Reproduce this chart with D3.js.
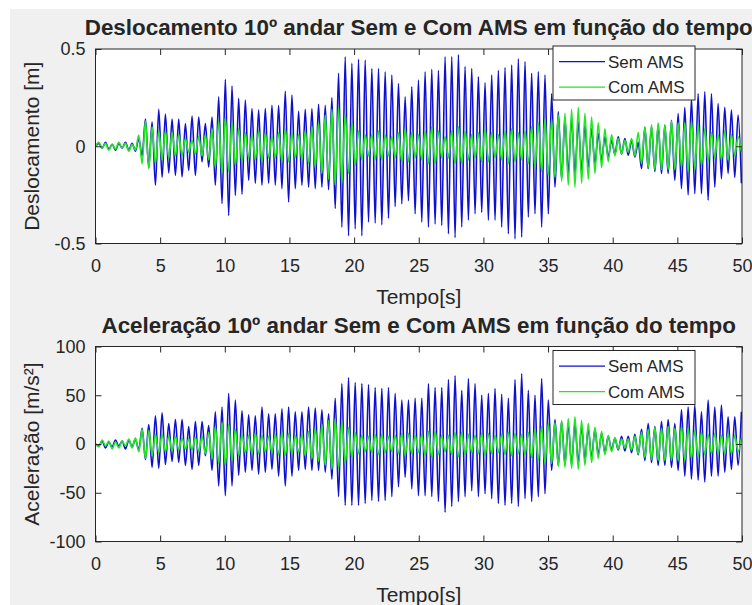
<!DOCTYPE html>
<html>
<head>
<meta charset="utf-8">
<script src="https://cdn.jsdelivr.net/npm/d3@7"></script>
<style>
  html, body { margin: 0; padding: 0; background: #ffffff; }
  svg { display: block; }
  text { font-family: "Liberation Sans", Arial, Helvetica, sans-serif; fill: #262626; }
</style>
</head>
<body>
<svg id="chart" width="752" height="605"></svg>
<script>
// ---------------- DATA ----------------
// Successive extremes (alternating max / min) of each signal, one per half oscillation.
const halfPeriod = 0.2575; // seconds between successive extremes (period ~0.515 s)

const semAMSDeslocamento = [
  0, 0.015, -0.01, 0.02, -0.015, 0.01, -0.02, 0.015, -0.01, 0.02,
  -0.02, 0.015, -0.025, 0.04, -0.05, 0.14, -0.11, 0.125, -0.2, 0.19,
  -0.16, 0.165, -0.137, 0.14, -0.15, 0.14, -0.158, 0.117, -0.124, 0.155,
  -0.15, 0.15, -0.08, 0.117, -0.107, 0.15, -0.2, 0.254, -0.295, 0.344,
  -0.356, 0.31, -0.253, 0.246, -0.247, 0.237, -0.175, 0.194, -0.19, 0.186,
  -0.2, 0.194, -0.19, 0.21, -0.2, 0.21, -0.218, 0.283, -0.287, 0.263,
  -0.218, 0.18, -0.2, 0.19, -0.21, 0.194, -0.218, 0.216, -0.21, 0.21,
  -0.223, 0.25, -0.32, 0.375, -0.416, 0.46, -0.46, 0.426, -0.425, 0.447,
  -0.46, 0.443, -0.39, 0.4, -0.395, 0.4, -0.404, 0.383, -0.37, 0.366,
  -0.31, 0.323, -0.296, 0.254, -0.28, 0.306, -0.347, 0.34, -0.39, 0.383,
  -0.416, 0.395, -0.4, 0.39, -0.407, 0.46, -0.45, 0.46, -0.47, 0.47,
  -0.416, 0.41, -0.38, 0.4, -0.347, 0.357, -0.34, 0.326, -0.38, 0.366,
  -0.38, 0.39, -0.416, 0.405, -0.45, 0.418, -0.476, 0.45, -0.467, 0.435,
  -0.364, 0.375, -0.347, 0.383, -0.416, 0.366, -0.347, 0.27, -0.21, 0.177,
  -0.167, 0.143, -0.14, 0.143, -0.14, 0.125, -0.124, 0.108, -0.107, 0.09,
  -0.09, 0.065, -0.072, 0.048, -0.055, 0.03, -0.04, 0.048, -0.04, 0.04,
  -0.046, 0.03, -0.055, 0.02, -0.115, 0.096, -0.115, 0.1, -0.13, 0.108,
  -0.14, 0.108, -0.14, 0.134, -0.175, 0.168, -0.218, 0.2, -0.25, 0.245,
  -0.244, 0.27, -0.244, 0.28, -0.278, 0.27, -0.21, 0.22, -0.167, 0.2,
  -0.14, 0.186, -0.16, 0.16, -0.19
];

const comAMSDeslocamento = [
  0, 0.02, -0.01, 0.015, -0.02, 0.01, -0.015, 0.02, -0.01, 0.015,
  -0.025, 0.01, -0.02, 0.057, -0.09, 0.13, -0.115, 0.1, -0.09, 0.08,
  -0.07, 0.08, -0.06, 0.07, -0.05, 0.06, -0.05, 0.04, -0.03, 0.03,
  -0.04, 0.05, -0.05, 0.06, -0.07, 0.09, -0.11, 0.13, -0.14, 0.15,
  -0.13, 0.12, -0.1, 0.09, -0.08, 0.07, -0.06, 0.06, -0.07, 0.08,
  -0.08, 0.07, -0.06, 0.05, -0.06, 0.07, -0.08, 0.09, -0.08, 0.07,
  -0.06, 0.06, -0.07, 0.08, -0.09, 0.1, -0.11, 0.12, -0.14, 0.16,
  -0.17, 0.19, -0.2, 0.2, -0.19, 0.17, -0.14, 0.12, -0.1, 0.08,
  -0.07, 0.06, -0.05, 0.06, -0.07, 0.08, -0.07, 0.06, -0.05, 0.05,
  -0.06, 0.07, -0.08, 0.09, -0.08, 0.07, -0.06, 0.06, -0.07, 0.08,
  -0.09, 0.1, -0.09, 0.08, -0.06, 0.05, -0.06, 0.08, -0.09, 0.1,
  -0.09, 0.08, -0.07, 0.06, -0.06, 0.07, -0.08, 0.09, -0.08, 0.07,
  -0.06, 0.06, -0.07, 0.08, -0.09, 0.09, -0.08, 0.07, -0.07, 0.08,
  -0.09, 0.1, -0.11, 0.12, -0.13, 0.14, -0.15, 0.14, -0.16, 0.16,
  -0.18, 0.17, -0.2, 0.19, -0.21, 0.2, -0.19, 0.17, -0.17, 0.15,
  -0.14, 0.12, -0.11, 0.09, -0.08, 0.06, -0.05, 0.04, -0.04, 0.03,
  -0.03, 0.04, -0.05, 0.07, -0.09, 0.1, -0.11, 0.11, -0.12, 0.12,
  -0.12, 0.11, -0.12, 0.13, -0.12, 0.12, -0.11, 0.12, -0.13, 0.13,
  -0.12, 0.11, -0.1, 0.09, -0.08, 0.07, -0.06, 0.06, -0.07, 0.08,
  -0.07, 0.06, -0.05, 0.05, -0.03
];

const semAMSAceleracao = [
  0, -2, 3, -4, 2, -3, 4, -2, 3, -5,
  4, -3, 5, -6, 16, -16, 20, -24, 29, -25,
  32, -21, 21, -18, 25, -19, 25, -22, 18, -26,
  23, -22, 23, -12, 19, -27, 33, -43, 38, -53,
  52, -43, 45, -32, 34, -29, 30, -27, 29, -31,
  38, -29, 31, -26, 31, -33, 36, -43, 38, -33,
  33, -27, 33, -26, 38, -27, 37, -27, 35, -29,
  31, -36, 47, -54, 62, -63, 68, -63, 63, -63,
  62, -61, 61, -58, 58, -59, 57, -58, 58, -54,
  52, -44, 45, -34, 45, -46, 47, -53, 47, -53,
  62, -54, 58, -59, 58, -70, 66, -64, 70, -59,
  55, -54, 67, -48, 62, -54, 50, -51, 52, -56,
  57, -61, 51, -63, 47, -61, 66, -64, 72, -56,
  55, -59, 50, -54, 67, -51, 45, -27, 25, -22,
  23, -21, 20, -21, 21, -19, 18, -16, 16, -14,
  15, -11, 11, -9, 8, -6, 6, -6, 8, -7,
  8, -9, 10, -11, 15, -17, 21, -19, 18, -22,
  23, -22, 25, -24, 21, -27, 35, -33, 38, -36,
  40, -37, 33, -39, 45, -33, 38, -33, 40, -29,
  28, -26, 28, -22, 33
];

const comAMSAceleracao = [
  0, -3, 4, -2, 3, -5, 2, -4, 3, -2,
  5, -4, 6, -8, 15, -15, 14, -12, 10, -9,
  10, -8, 8, -7, 8, -6, 6, -5, 5, -6,
  7, -8, 8, -10, 12, -15, 18, -20, 22, -22,
  20, -17, 15, -12, 10, -9, 9, -10, 11, -10,
  9, -8, 8, -9, 10, -11, 12, -12, 11, -10,
  9, -9, 10, -12, 13, -15, 16, -18, 20, -22,
  24, -26, 26, -25, 23, -20, 17, -14, 12, -10,
  9, -8, 8, -9, 10, -11, 10, -9, 8, -8,
  9, -10, 11, -12, 11, -10, 9, -9, 10, -12,
  13, -14, 13, -11, 9, -8, 9, -11, 12, -13,
  12, -11, 10, -9, 9, -10, 11, -12, 11, -10,
  9, -9, 10, -11, 12, -12, 11, -10, 10, -11,
  12, -14, 15, -17, 18, -20, 21, -20, 22, -23,
  24, -24, 26, -25, 28, -26, 24, -22, 21, -19,
  17, -15, 13, -11, 9, -8, 6, -5, 5, -4,
  5, -6, 8, -10, 12, -14, 15, -16, 17, -17,
  16, -17, 18, -17, 16, -17, 18, -17, 16, -15,
  14, -13, 12, -11, 10, -10, 11, -10, 9, -10,
  11, -10, 9, -8, 6
];

const xTicks = [0, 5, 10, 15, 20, 25, 30, 35, 40, 45, 50];
const yTicksDesl = [-0.5, 0, 0.5];
const yTicksAcel = [-100, -50, 0, 50, 100];
const seriesNames = ["Sem AMS", "Com AMS"];
const seriesColors = ["#0f0fd2", "#22e622"];

// ---------------- DRAWING ----------------
const svg = d3.select("#chart");
svg.append("rect").attr("x", 0).attr("y", 0).attr("width", 752).attr("height", 605).attr("fill", "#ffffff");
svg.append("rect").attr("x", 10).attr("y", 9).attr("width", 742).attr("height", 596).attr("fill", "#f0f0f0");

const axLeft = 95.5, axRight = 742;
const x = d3.scaleLinear().domain([0, 50]).range([axLeft, axRight]);
const hyphenFmt = d => String(d).replace("\u2212", "-");

function panel(cfg) {
  const { top, bottom, yDomain, yTicks, sem, com, title, titleY, ylabel, legendY, id } = cfg;
  const y = d3.scaleLinear().domain(yDomain).range([bottom, top]);
  const g = svg.append("g");

  g.append("rect").attr("x", axLeft).attr("y", top).attr("width", axRight - axLeft).attr("height", bottom - top)
    .attr("fill", "#ffffff");

  g.append("clipPath").attr("id", "clip" + id).append("rect")
    .attr("x", axLeft).attr("y", top).attr("width", axRight - axLeft).attr("height", bottom - top);

  const line = d3.line()
    .x((d, i) => x(i * halfPeriod))
    .y(d => y(d))
    .curve(d3.curveMonotoneX);

  const plot = g.append("g").attr("clip-path", `url(#clip${id})`);
  [sem, com].forEach((s, i) => {
    plot.append("path").datum(s).attr("d", line).attr("fill", "none")
      .attr("stroke", seriesColors[i]).attr("stroke-width", 1.6).attr("stroke-linejoin", "round");
  });

  // axes with inward ticks
  const tickFont = sel => sel.selectAll("text").style("font-size", "18px").attr("fill", "#262626");
  const clean = sel => { sel.select(".domain").remove(); sel.selectAll("line").attr("stroke", "#262626"); };

  g.append("g").attr("transform", `translate(0,${bottom})`)
    .call(d3.axisBottom(x).tickValues(xTicks).tickFormat(hyphenFmt).tickSize(-6).tickPadding(16))
    .call(clean).call(tickFont);
  g.append("g").attr("transform", `translate(0,${top})`)
    .call(d3.axisTop(x).tickValues(xTicks).tickSize(-6).tickFormat(""))
    .call(clean);
  g.append("g").attr("transform", `translate(${axLeft},0)`)
    .call(d3.axisLeft(y).tickValues(yTicks).tickFormat(hyphenFmt).tickSize(-6).tickPadding(10))
    .call(clean).call(tickFont);
  g.append("g").attr("transform", `translate(${axRight},0)`)
    .call(d3.axisRight(y).tickValues(yTicks).tickSize(-6).tickFormat(""))
    .call(clean);
  svg.selectAll("g").attr("font-family", null);

  g.append("rect").attr("x", axLeft).attr("y", top).attr("width", axRight - axLeft).attr("height", bottom - top)
    .attr("fill", "none").attr("stroke", "#262626").attr("stroke-width", 1);

  // title and labels
  const cx = (axLeft + axRight) / 2;
  g.append("text").attr("x", cx).attr("y", titleY).attr("text-anchor", "middle")
    .style("font-size", "22.4px").style("font-weight", "bold").attr("fill", "#000000").text(title);
  g.append("text").attr("x", cx).attr("y", bottom + 60).attr("text-anchor", "middle")
    .style("font-size", "21px").text("Tempo[s]");
  g.append("text").attr("transform", `translate(39,${(top + bottom) / 2}) rotate(-90)`)
    .attr("text-anchor", "middle").style("font-size", "21px").text(ylabel);

  // legend
  const lx = 553, lw = 142, lh = 54;
  const lg = g.append("g");
  lg.append("rect").attr("x", lx).attr("y", legendY).attr("width", lw).attr("height", lh)
    .attr("fill", "#ffffff").attr("stroke", "#262626").attr("stroke-width", 1);
  seriesNames.forEach((name, i) => {
    const ry = legendY + 15.6 + i * 25.6;
    lg.append("line").attr("x1", lx + 6).attr("x2", lx + 52).attr("y1", ry).attr("y2", ry)
      .attr("stroke", seriesColors[i]).attr("stroke-width", 1.2);
    lg.append("text").attr("x", lx + 55).attr("y", ry).attr("dy", "0.36em")
      .style("font-size", "17px").attr("fill", "#000000").text(name);
  });
}

panel({
  id: "a", top: 49, bottom: 243.5, yDomain: [-0.5, 0.5], yTicks: yTicksDesl,
  sem: semAMSDeslocamento, com: comAMSDeslocamento,
  title: "Deslocamento 10º andar Sem e Com AMS em função do tempo", titleY: 35,
  ylabel: "Deslocamento [m]", legendY: 46
});
panel({
  id: "b", top: 346.5, bottom: 541.5, yDomain: [-100, 100], yTicks: yTicksAcel,
  sem: semAMSAceleracao, com: comAMSAceleracao,
  title: "Aceleração 10º andar Sem e Com AMS em função do tempo", titleY: 333,
  ylabel: "Aceleração [m/s²]", legendY: 350.5
});
</script>
</body>
</html>
